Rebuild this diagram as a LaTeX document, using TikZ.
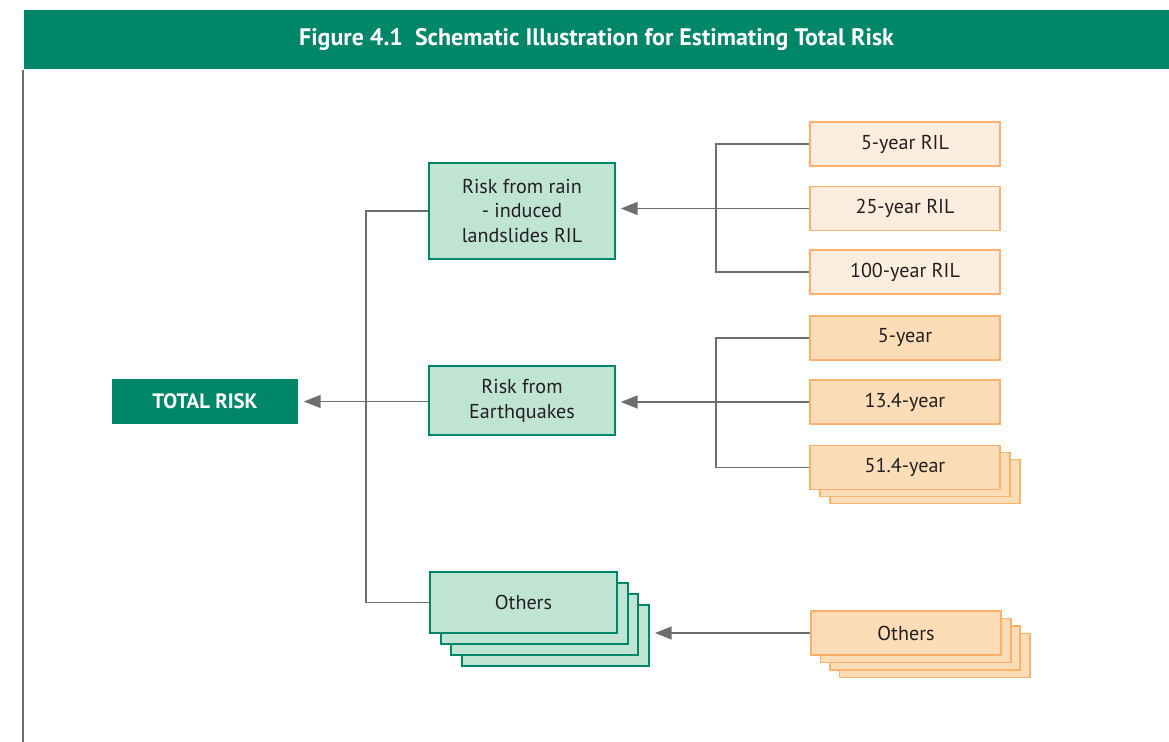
\documentclass[tikz,border=0pt]{standalone}
\usepackage{fontspec}
\setmainfont{PT Sans}
\usetikzlibrary{positioning,arrows.meta}

\definecolor{figgreen}{HTML}{00876A}
\definecolor{palegreen}{HTML}{BFE4D3}
\definecolor{rimorange}{HTML}{FDB26B}
\definecolor{paleorange}{HTML}{FDEDDE}
\definecolor{midorange}{HTML}{FDDCB8}
\definecolor{linegray}{HTML}{6D6E70}
\definecolor{inkblack}{HTML}{231F20}

\begin{document}
\begin{tikzpicture}[x=0.025cm,y=-0.025cm]
 \tikzstyle{every path}=[line width=1.4pt]

\useasboundingbox (0,0) rectangle (1169,742);

\edef\boxwidth{4.65cm}
\tikzstyle{riskbox}=[draw=figgreen,fill=palegreen,text=inkblack,minimum width=\boxwidth,align=center,inner sep=0pt,font=\fontsize{14.3}{17.7}\selectfont]
\tikzstyle{yearbox}=[draw=rimorange,fill=paleorange,text=inkblack,minimum width=4.75cm,minimum height=1.1cm,inner sep=0pt,font=\fontsize{14.3}{17.7}\selectfont]
\tikzstyle{quakebox}=[yearbox,fill=midorange]
\tikzstyle{conn}=[draw=linegray]
\tikzstyle{arr}=[conn,-{Triangle[length=0.42cm,width=0.32cm]},shorten >=0.12cm]

%% Title bar and frame
\node [fill=figgreen,text=white,minimum width=28.625cm,minimum height=1.475cm,inner sep=0pt,
       font=\fontsize{17}{19}\selectfont\bfseries] (title) at (596.5,39.5)
       {Figure 4.1\ \ Schematic Illustration for Estimating Total Risk};
\draw [linegray] (title.south west) -- ++(0,673);

%% Left column
\node [fill=figgreen,text=white,minimum width=\boxwidth,minimum height=1.125cm,inner sep=0pt,
       font=\fontsize{14.8}{17}\selectfont\bfseries] (total) at (205,401.5) {TOTAL RISK};

%% Middle column
\node [riskbox,minimum height=2.4cm] (rain) at (522,211) {Risk from rain\\- induced\\landslides RIL};
\node [riskbox,minimum height=1.725cm] (quake) at (522,400.5) {Risk from\\Earthquakes};
\foreach \k in {3,2,1}
    \node [riskbox,minimum width=4.675cm,minimum height=1.525cm] (oth-\k) at (523.5+\k*10.7,602.5+\k*11) {};
\node [riskbox,minimum width=4.675cm,minimum height=1.525cm] (oth) at (523.5,602.5) {Others};

%% Right column
\node [yearbox] (rain5) at (905,144) {5-year RIL};
\node [yearbox] (rain25) at (905,208.5) {25-year RIL};
\node [yearbox] (rain100) at (905,272) {100-year RIL};

\node [quakebox] (eq5) at (905,338) {5-year};
\node [quakebox] (eq13) at (905,402) {13.4-year};
\foreach \k in {2,1}
    \node [quakebox] (eq51-\k) at (905+\k*10,467.5+\k*7) {};
\node [quakebox] (eq51) at (905,467.5) {51.4-year};

\foreach \k in {3,2,1}
    \node [quakebox] (rOth-\k) at (906+\k*9.5,633+\k*7.5) {};
\node [quakebox] (rOth) at (906,633) {Others};

%% Connectors
\draw [conn] (rain.west) -- ++(-62,0) |- (oth.west);
\draw [arr] (quake.west |- total.east) -- (total.east);

\draw [conn] (rain5.west) -- ++(-93,0) |- (rain100.west);
\draw [arr] (rain25.west) -- (rain25.west -| rain.east);

\draw [conn] (eq5.west) -- ++(-93,0) |- (eq51.west);
\draw [arr] (eq13.west) -- (eq13.west -| quake.east);

\draw [arr] (rOth.west) -- (rOth.west -| oth-3.east);

\end{tikzpicture}
\end{document}
